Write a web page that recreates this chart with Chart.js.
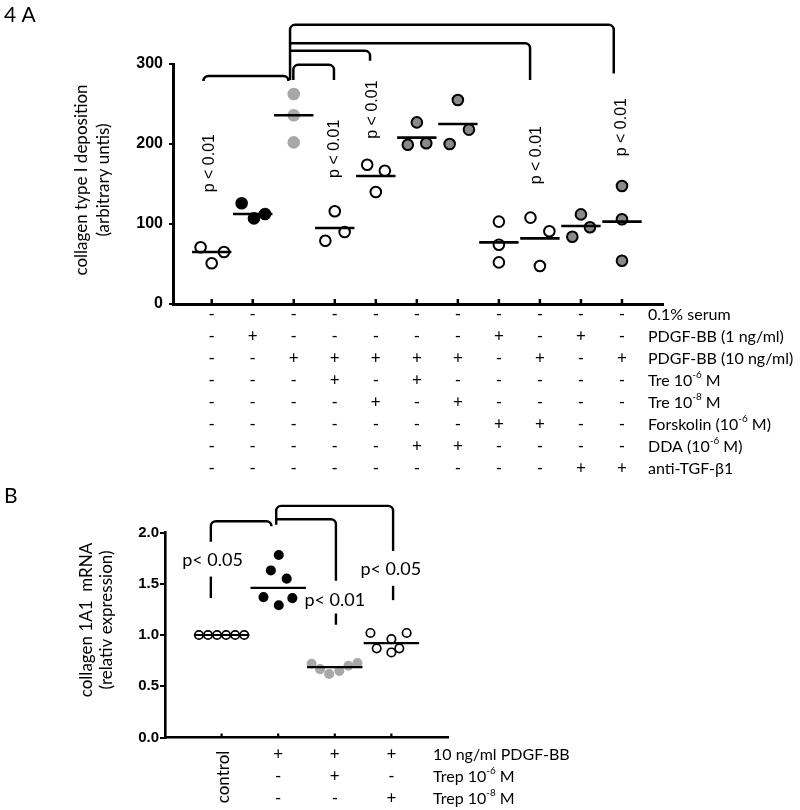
<!DOCTYPE html>
<html>
<head>
<meta charset="utf-8">
<script src="https://cdn.jsdelivr.net/npm/chart.js@4"></script>
<style>
  html, body { margin: 0; padding: 0; background: #fff; }
  #wrap { position: relative; width: 800px; height: 810px; }
  #wrap canvas { position: absolute; left: 0; top: 0; }
</style>
</head>
<body>
<div id="wrap">
  <canvas id="chartA" width="800" height="810"></canvas>
  <canvas id="chartB" width="800" height="810"></canvas>
</div>
<script>
// ---- Panel A: collagen type I deposition, 11 treatment groups ----
const valuesA = [
  [71, 51, 65],
  [126, 107, 112.5],
  [262.5, 236, 202],
  [116, 79, 90],
  [174, 166.5, 140],
  [227, 199, 201],
  [255, 218, 200],
  [103, 74, 52],
  [108, 91, 47.5],
  [112, 96, 84],
  [147.5, 106, 54]
];
// horizontal scatter of the dots inside each group (category units)
const jitterA = [
  [-0.27, 0, 0.3],
  [-0.27, 0.03, 0.3],
  [0, 0, 0],
  [0, -0.23, 0.24],
  [-0.21, 0.22, 0],
  [0, -0.22, 0.23],
  [0, 0.27, -0.2],
  [0, 0, 0],
  [-0.23, 0.23, 0],
  [0, 0.22, -0.21],
  [0, 0, 0]
];
const meanA = [65, 112.5, 236, 95, 160, 208, 225, 77, 82, 97.5, 103];
const yTicksA = [0, 100, 200, 300];

const rowLabelsA = [
  '0.1% serum',
  'PDGF-BB (1 ng/ml)',
  'PDGF-BB (10 ng/ml)',
  'Tre 10^{-6} M',
  'Tre 10^{-8} M',
  'Forskolin (10^{-6} M)',
  'DDA (10^{-6} M)',
  'anti-TGF-\u03b21'
];
const signsA = [
  '-----------',
  '-+-----+-+-',
  '--+++++-+-+',
  '---+-+-----',
  '----+-+----',
  '-------++--',
  '-----++----',
  '---------++'
];
const pTextA = [
  { x: -0.04, y: 176, text: 'p < 0.01' },
  { x: 3.0, y: 194, text: 'p < 0.01' },
  { x: 3.93, y: 243, text: 'p < 0.01' },
  { x: 7.91, y: 186, text: 'p < 0.01' },
  { x: 10.0, y: 221, text: 'p < 0.01' }
];
const bracketsA = [
  [[-0.2, 280], [-0.2, 285], [1.87, 285], [1.87, 280]],
  [[1.91, 280], [1.91, 349], [9.8, 349], [9.8, 288]],
  [[1.91, 326], [7.76, 326], [7.76, 280]],
  [[1.91, 316.5], [3.86, 316.5], [3.86, 304]],
  [[1.99, 280], [1.99, 299], [2.98, 299], [2.98, 280]]
];

// ---- Panel B: collagen 1A1 mRNA ----
const valuesB = [
  [1, 1, 1, 1, 1, 1],
  [1.78, 1.63, 1.55, 1.37, 1.36, 1.29],
  [0.72, 0.667, 0.62, 0.65, 0.70, 0.726],
  [1.02, 0.87, 0.96, 0.83, 0.87, 1.02]
];
const jitterB = [
  [-0.4, -0.24, -0.08, 0.08, 0.24, 0.4],
  [0.01, -0.13, 0.15, -0.26, 0.25, 0.01],
  [-0.41, -0.26, -0.1, 0.08, 0.24, 0.4],
  [-0.37, -0.26, 0, 0, 0.14, 0.27]
];
const meanB = [1.0, 1.46, 0.687, 0.92];
const rowLabelsB = ['10 ng/ml PDGF-BB', 'Trep 10^{-6} M', 'Trep 10^{-8} M'];
const signsB = [' +++', ' -+-', ' --+'];
const pTextB = [
  { x: -0.16, y: 1.73, text: 'p< 0.05' },
  { x: 2.0, y: 1.34, text: 'p< 0.01' },
  { x: 2.99, y: 1.64, text: 'p< 0.05' }
];
const bracketsB = [
  [[-0.19, 1.91], [-0.19, 2.11], [0.88, 2.11], [0.88, 2.06]],
  [[-0.19, 1.57], [-0.19, 1.36]],
  [[0.965, 2.075], [0.965, 2.26], [3.03, 2.26], [3.03, 1.82]],
  [[0.965, 2.13], [2.02, 2.13], [2.02, 1.53]],
  [[2.02, 1.21], [2.02, 1.10]],
  [[3.03, 1.48], [3.03, 1.34]]
];

// ---- styles ----
const FONT = 'Lato, "Open sans", sans-serif';
const ARIAL = '"Liberation Sans", Arial, sans-serif';
const OPEN = '#ffffff', BLACK = '#000000', LIGHT = '#a8a8a8', DARK = '#8a8a8a';
const fillA = [OPEN, BLACK, LIGHT, OPEN, OPEN, DARK, DARK, OPEN, OPEN, DARK, DARK];
const fillB = [OPEN, BLACK, LIGHT, OPEN];

function buildSets(values, jitter, means, fills, r, bw, lw, half) {
  const sets = [];
  values.forEach((vals, g) => {
    sets.push({
      type: 'line',
      data: [{ x: g - half, y: means[g] }, { x: g + half, y: means[g] }],
      borderColor: '#000', borderWidth: lw, pointRadius: 0, order: -1
    });
    sets.push({
      data: vals.map((v, i) => ({ x: g + jitter[g][i], y: v })),
      backgroundColor: fills[g],
      borderColor: fills[g] === LIGHT ? LIGHT : '#000',
      borderWidth: bw, pointRadius: r, order: 1
    });
  });
  return sets;
}

function drawRich(ctx, str, x, y, size) {
  let cx = x;
  str.split(/(\^\{[^}]*\})/).forEach(p => {
    if (!p) return;
    const sup = p.startsWith('^{');
    const t = sup ? p.slice(2, -1) : p;
    ctx.font = (sup ? size * 0.62 : size) + 'px ' + FONT;
    ctx.fillText(t, cx, sup ? y - size * 0.36 : y);
    cx += ctx.measureText(t).width;
  });
}

function roundedPath(ctx, pts, r) {
  ctx.beginPath();
  ctx.moveTo(pts[0][0], pts[0][1]);
  for (let i = 1; i < pts.length - 1; i++) {
    ctx.arcTo(pts[i][0], pts[i][1], pts[i + 1][0], pts[i + 1][1], r);
  }
  ctx.lineTo(pts[pts.length - 1][0], pts[pts.length - 1][1]);
  ctx.stroke();
}

// draws inward x ticks, brackets, p-values, row labels, titles
function makeExtras(id, cfg) {
  return {
    id: id,
    afterDraw(chart) {
      const { ctx, chartArea } = chart;
      const x = chart.scales.x, y = chart.scales.y;
      ctx.save();
      ctx.strokeStyle = '#000';
      ctx.fillStyle = '#000';

      ctx.lineWidth = cfg.tickWidth;
      x.ticks.forEach(t => {
        const px = x.getPixelForValue(t.value);
        ctx.beginPath();
        ctx.moveTo(px, chartArea.bottom);
        ctx.lineTo(px, chartArea.bottom - cfg.tickLen);
        ctx.stroke();
      });

      ctx.lineWidth = cfg.bracketWidth;
      cfg.brackets.forEach(b => roundedPath(ctx,
        b.map(p => [x.getPixelForValue(p[0]), y.getPixelForValue(p[1])]), 5));

      ctx.font = cfg.pFont;
      ctx.textAlign = 'center';
      ctx.textBaseline = 'middle';
      cfg.pText.forEach(p => {
        ctx.save();
        ctx.translate(x.getPixelForValue(p.x), y.getPixelForValue(p.y));
        if (cfg.pRotate) ctx.rotate(-Math.PI / 2);
        ctx.fillText(p.text, 0, 0);
        ctx.restore();
      });

      ctx.textAlign = 'left';
      cfg.rowLabels.forEach((lab, i) => {
        drawRich(ctx, lab, cfg.rowX, chartArea.bottom + cfg.rowPad + 11 + i * 22, 16);
      });

      ctx.font = '17px ' + FONT;
      ctx.textAlign = 'center';
      cfg.yTitle.forEach((line, i) => {
        ctx.save();
        ctx.translate(cfg.yTitleX[i], cfg.yTitleY);
        ctx.rotate(-Math.PI / 2);
        ctx.fillText(line, 0, 0);
        ctx.restore();
      });

      if (cfg.vertical) {
        ctx.save();
        ctx.translate(cfg.vertical.x, cfg.vertical.y);
        ctx.rotate(-Math.PI / 2);
        ctx.fillText(cfg.vertical.text, 0, 0);
        ctx.restore();
      }

      ctx.font = '21px ' + FONT;
      ctx.textAlign = 'left';
      ctx.textBaseline = 'alphabetic';
      ctx.fillText(cfg.panel.text, cfg.panel.x, cfg.panel.y);
      ctx.restore();
    }
  };
}

// ---- Chart A ----
new Chart(document.getElementById('chartA'), {
  type: 'scatter',
  data: { datasets: buildSets(valuesA, jitterA, meanA, fillA, 5.3, 2, 2.6, 0.48) },
  options: {
    responsive: false,
    animation: false,
    layout: { padding: { left: 0, top: 64, right: 137, bottom: 330 } },
    plugins: { legend: { display: false }, tooltip: { enabled: false } },
    scales: {
      x: {
        type: 'linear', min: -0.943, max: 11,
        afterBuildTicks: s => { s.ticks = valuesA.map((_, i) => ({ value: i })); },
        afterFit: s => { s.height = 176; },
        ticks: {
          autoSkip: false, maxRotation: 0, minRotation: 0, padding: 0, color: '#000',
          font: { family: FONT, size: 17, lineHeight: 22 / 17 },
          callback: (v, i) => signsA.map(r => r[i])
        },
        grid: { display: false, drawTicks: false },
        border: { color: '#000', width: 3 }
      },
      y: {
        min: 0, max: 300,
        afterBuildTicks: s => { s.ticks = yTicksA.map(v => ({ value: v })); },
        afterFit: s => { s.width = 173; },
        ticks: { color: '#000', padding: 6, font: { family: ARIAL, size: 16, weight: 'bold' } },
        grid: { drawOnChartArea: false, drawTicks: true, tickLength: 4, color: '#000', lineWidth: 2 },
        border: { color: '#000', width: 3 }
      }
    }
  },
  plugins: [makeExtras('extrasA', {
    tickWidth: 2.5, tickLen: 5, bracketWidth: 2.5,
    brackets: bracketsA, pText: pTextA, pFont: '16px ' + ARIAL, pRotate: true,
    rowLabels: rowLabelsA, rowX: 648, rowPad: 0,
    yTitle: ['collagen type I deposition', '(arbitrary untis)'], yTitleX: [82, 103.5], yTitleY: 180,
    panel: { text: '4 A', x: 4, y: 22 }
  })]
});

// ---- Chart B ----
new Chart(document.getElementById('chartB'), {
  type: 'scatter',
  data: { datasets: buildSets(valuesB, jitterB, meanB, fillB, 4.2, 1.7, 2.2, 0.49) },
  options: {
    responsive: false,
    animation: false,
    layout: { padding: { left: 0, top: 532.5, right: 352, bottom: 0 } },
    plugins: { legend: { display: false }, tooltip: { enabled: false } },
    scales: {
      x: {
        type: 'linear', min: -1, max: 4,
        afterBuildTicks: s => { s.ticks = valuesB.map((_, i) => ({ value: i })); },
        afterFit: s => { s.height = 72.5; },
        ticks: {
          autoSkip: false, maxRotation: 0, minRotation: 0, padding: 6.5, color: '#000',
          font: { family: FONT, size: 17, lineHeight: 22 / 17 },
          callback: (v, i) => signsB.map(r => r[i])
        },
        grid: { display: false, drawTicks: false },
        border: { color: '#000', width: 2.6 }
      },
      y: {
        min: 0, max: 2,
        afterBuildTicks: s => { s.ticks = [0, 0.5, 1, 1.5, 2].map(v => ({ value: v })); },
        afterFit: s => { s.width = 165; },
        ticks: { color: '#000', padding: 1, font: { family: ARIAL, size: 15, weight: 'bold' },
          callback: v => v.toFixed(1) },
        grid: { drawOnChartArea: false, drawTicks: true, tickLength: 5, color: '#000', lineWidth: 2 },
        border: { color: '#000', width: 2.6 }
      }
    }
  },
  plugins: [makeExtras('extrasB', {
    tickWidth: 2.2, tickLen: 4, bracketWidth: 2.4,
    brackets: bracketsB, pText: pTextB, pFont: '18px ' + FONT, pRotate: false,
    rowLabels: rowLabelsB, rowX: 433, rowPad: 6.5,
    yTitle: ['collagen 1A1  mRNA', '(relativ expression)'], yTitleX: [87, 107], yTitleY: 620,
    vertical: { text: 'control', x: 224, y: 777 },
    panel: { text: 'B', x: 4, y: 503 }
  })]
});
</script>
</body>
</html>
